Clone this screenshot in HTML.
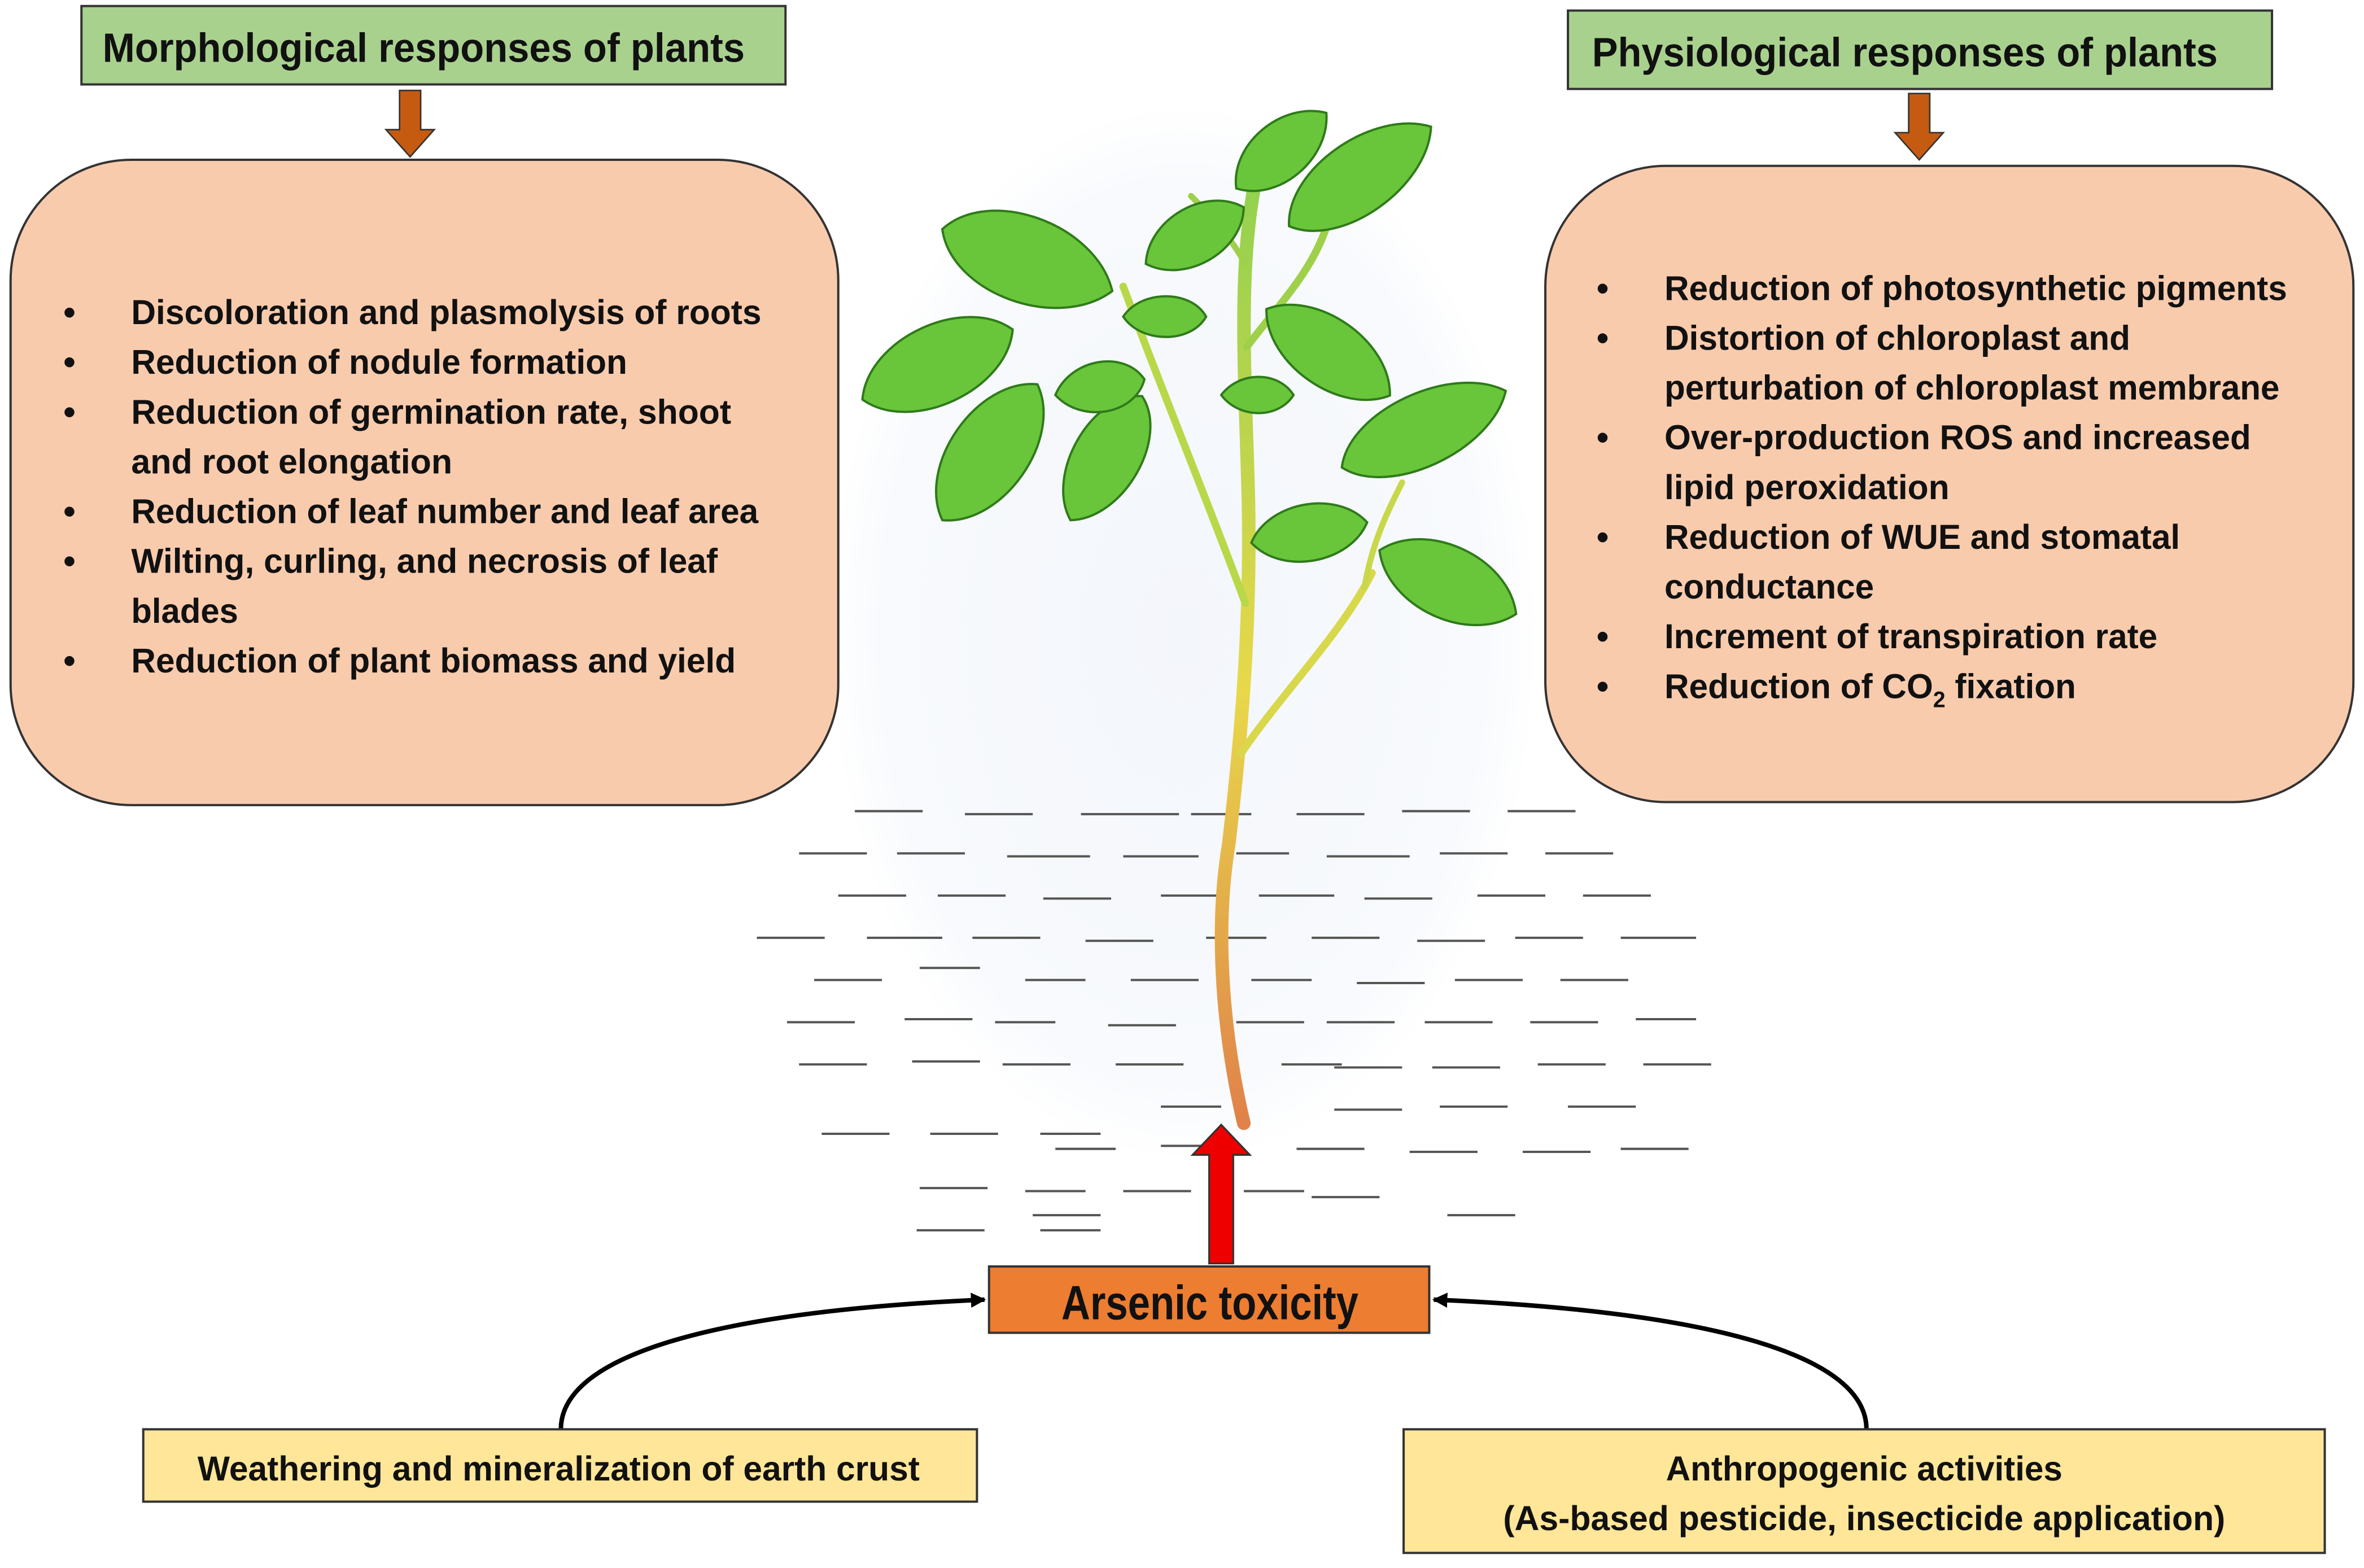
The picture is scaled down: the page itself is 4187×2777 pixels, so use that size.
<!DOCTYPE html>
<html><head><meta charset="utf-8"><style>
html,body{margin:0;padding:0;background:#fff;}
svg{display:block;}
text{font-family:"Liberation Sans",sans-serif;font-weight:bold;fill:#111;}
</style></head><body>
<svg width="4187" height="2777" viewBox="0 0 1568 1040" xmlns="http://www.w3.org/2000/svg">
<defs>
<marker id="ah" markerWidth="10" markerHeight="10" refX="9" refY="5" orient="auto" markerUnits="userSpaceOnUse"><path d="M0,0 L10,5 L0,10 Z" fill="#000"/></marker>
<radialGradient id="glow" cx="0.5" cy="0.5" r="0.5"><stop offset="0" stop-color="#f3f6fb"/><stop offset="0.85" stop-color="#f8fafd"/><stop offset="1" stop-color="#fff"/></radialGradient>
<linearGradient id="stem" x1="0" y1="0" x2="0" y2="1"><stop offset="0" stop-color="#8fd14f"/><stop offset="0.55" stop-color="#e8d84a"/><stop offset="1" stop-color="#e0824a"/></linearGradient>
</defs>
<rect width="1568" height="1040" fill="#fff"/>
<rect x="550" y="70" width="470" height="700" fill="url(#glow)"/>

<rect x="54" y="4" width="467" height="52" fill="#a9d18e" stroke="#333" stroke-width="1.5"/>
<text x="68" y="41" font-size="27" textLength="426" lengthAdjust="spacingAndGlyphs">Morphological responses of plants</text>
<rect x="1040" y="7" width="467" height="52" fill="#a9d18e" stroke="#333" stroke-width="1.5"/>
<text x="1056" y="44" font-size="27" textLength="415" lengthAdjust="spacingAndGlyphs">Physiological responses of plants</text>

<path d="M265,60 h14 v26 h9 l-16,18 l-16,-18 h9 z" fill="#c55a11" stroke="#333" stroke-width="1"/>
<path d="M1266,62 h14 v26 h9 l-16,18 l-16,-18 h9 z" fill="#c55a11" stroke="#333" stroke-width="1"/>

<rect x="7" y="106" width="549" height="428" rx="80" fill="#f8cbad" stroke="#333" stroke-width="1.5"/>
<rect x="1025" y="110" width="536" height="422" rx="80" fill="#f8cbad" stroke="#333" stroke-width="1.5"/>

<g font-size="23">
<text x="42" y="215">•</text><text x="87" y="215" textLength="418" lengthAdjust="spacingAndGlyphs">Discoloration and plasmolysis of roots</text>
<text x="42" y="248">•</text><text x="87" y="248" textLength="329" lengthAdjust="spacingAndGlyphs">Reduction of nodule formation</text>
<text x="42" y="281">•</text><text x="87" y="281" textLength="398" lengthAdjust="spacingAndGlyphs">Reduction of germination rate, shoot</text>
<text x="87" y="314" textLength="213" lengthAdjust="spacingAndGlyphs">and root elongation</text>
<text x="42" y="347">•</text><text x="87" y="347" textLength="416" lengthAdjust="spacingAndGlyphs">Reduction of leaf number and leaf area</text>
<text x="42" y="380">•</text><text x="87" y="380" textLength="389" lengthAdjust="spacingAndGlyphs">Wilting, curling, and necrosis of leaf</text>
<text x="87" y="413" textLength="71" lengthAdjust="spacingAndGlyphs">blades</text>
<text x="42" y="446">•</text><text x="87" y="446" textLength="401" lengthAdjust="spacingAndGlyphs">Reduction of plant biomass and yield</text>

<text x="1059" y="199">•</text><text x="1104" y="199" textLength="413" lengthAdjust="spacingAndGlyphs">Reduction of photosynthetic pigments</text>
<text x="1059" y="232">•</text><text x="1104" y="232" textLength="309" lengthAdjust="spacingAndGlyphs">Distortion of chloroplast and</text>
<text x="1104" y="265" textLength="408" lengthAdjust="spacingAndGlyphs">perturbation of chloroplast membrane</text>
<text x="1059" y="298">•</text><text x="1104" y="298" textLength="389" lengthAdjust="spacingAndGlyphs">Over-production ROS and increased</text>
<text x="1104" y="331" textLength="189" lengthAdjust="spacingAndGlyphs">lipid peroxidation</text>
<text x="1059" y="364">•</text><text x="1104" y="364" textLength="342" lengthAdjust="spacingAndGlyphs">Reduction of WUE and stomatal</text>
<text x="1104" y="397" textLength="139" lengthAdjust="spacingAndGlyphs">conductance</text>
<text x="1059" y="430">•</text><text x="1104" y="430" textLength="327" lengthAdjust="spacingAndGlyphs">Increment of transpiration rate</text>
<text x="1059" y="463">•</text><text x="1104" y="463" textLength="273" lengthAdjust="spacingAndGlyphs">Reduction of CO<tspan font-size="15" dy="6">2</tspan><tspan dy="-6"> fixation</tspan></text>
</g>

<g stroke="#555" stroke-width="3.5">
<path d="M567,538h45 M640,540h45 M717,540h65 M790,540h40 M860,540h45 M930,538h45 M1000,538h45
M530,566h45 M595,566h45 M668,568h55 M745,568h50 M820,566h35 M880,568h55 M955,566h45 M1025,566h45
M556,594h45 M622,594h45 M692,596h45 M770,594h40 M835,594h50 M905,596h45 M980,594h45 M1050,594h45
M502,622h45 M575,622h50 M645,622h45 M720,624h45 M800,622h40 M870,622h45 M940,624h45 M1005,622h45 M1075,622h50
M540,650h45 M610,642h40 M680,650h40 M750,650h45 M830,650h40 M900,652h45 M965,650h45 M1035,650h45
M522,678h45 M600,676h45 M660,678h40 M735,680h45 M820,678h45 M880,678h45 M945,678h45 M1015,678h45 M1085,676h40
M530,706h45 M605,704h45 M665,706h45 M740,706h45 M850,706h40 M885,708h45 M950,708h45 M1020,706h45 M1090,706h45
M770,734h40 M885,736h45 M955,734h45 M1040,734h45
M545,752h45 M617,752h45 M690,752h40 M700,762h40 M770,760h45 M860,762h45 M935,764h45 M1010,764h45 M1075,762h45
M610,788h45 M680,790h40 M745,790h45 M825,790h40 M870,794h45 M960,806h45
M608,816h45 M685,806h45 M690,816h40</path>
</g>

<g stroke="#f2e66a" stroke-width="1.5" fill="none">
<path d="M812,610 C780,620 750,630 720,650 M720,650 C705,660 695,670 690,690 M760,640 C745,660 740,680 735,700 M812,620 C850,615 880,620 915,625 M860,620 C880,640 900,660 915,690 M830,640 C860,650 880,670 890,700 M800,650 C780,670 770,690 760,730 M840,660 C845,680 850,700 845,730 M735,660 L705,665 M880,650 L905,650 M750,680 L725,690 M870,680 L895,700 M700,640 L680,650 M900,630 L915,640"/>
</g>

<g fill="none" stroke-linecap="round">
<path d="M825,745 C812,690 805,620 815,560 C822,500 830,420 828,330 C826,250 820,170 835,110" stroke="url(#stem)" stroke-width="9"/>
<path d="M823,500 C850,460 890,420 910,380" stroke="#d8d84a" stroke-width="5"/>
<path d="M826,400 C800,330 775,270 745,190" stroke="#b8d84a" stroke-width="5"/>
<path d="M827,230 C850,200 870,180 880,150" stroke="#9fd04a" stroke-width="5"/>
<path d="M826,175 C815,155 800,140 790,130" stroke="#9fd04a" stroke-width="4"/>
<path d="M905,390 C910,360 920,340 930,320" stroke="#c8d84a" stroke-width="4"/>
</g>

<g stroke="#2f7a1a" stroke-width="1.5">
<g fill="#69c53a">
<path transform="translate(625,152) rotate(20)" d="M0,0 C20,-38 95,-38 120,0 C95,38 20,38 0,0Z"/>
<path transform="translate(572,265) rotate(-25)" d="M0,0 C20,-35 90,-35 110,0 C90,35 20,35 0,0Z"/>
<path transform="translate(625,345) rotate(-55)" d="M0,0 C20,-35 90,-35 110,0 C90,35 20,35 0,0Z"/>
<path transform="translate(710,345) rotate(-60)" d="M0,0 C18,-30 80,-30 95,0 C80,30 18,30 0,0Z"/>
<path transform="translate(700,262) rotate(-10)" d="M0,0 C14,-22 50,-22 60,0 C50,22 14,22 0,0Z"/>
<path transform="translate(760,175) rotate(-30)" d="M0,0 C16,-25 60,-25 75,0 C60,25 16,25 0,0Z"/>
<path transform="translate(745,210) rotate(0)" d="M0,0 C12,-18 45,-18 55,0 C45,18 12,18 0,0Z"/>
<path transform="translate(820,125) rotate(-40)" d="M0,0 C16,-25 60,-25 78,0 C60,25 16,25 0,0Z"/>
<path transform="translate(855,150) rotate(-35)" d="M0,0 C20,-32 90,-32 115,0 C90,32 20,32 0,0Z"/>
<path transform="translate(840,205) rotate(35)" d="M0,0 C20,-30 80,-30 100,0 C80,30 20,30 0,0Z"/>
<path transform="translate(810,262) rotate(0)" d="M0,0 C12,-16 38,-16 48,0 C38,16 12,16 0,0Z"/>
<path transform="translate(890,310) rotate(-25)" d="M0,0 C20,-32 95,-32 120,0 C95,32 20,32 0,0Z"/>
<path transform="translate(830,360) rotate(-10)" d="M0,0 C16,-25 62,-25 78,0 C62,25 16,25 0,0Z"/>
<path transform="translate(915,365) rotate(25)" d="M0,0 C20,-32 80,-32 100,0 C80,32 20,32 0,0Z"/>
</g>
</g>

<path d="M802,838 v-72 h-11 l19,-20 l19,20 h-11 v72 z" fill="#e00" stroke="#333" stroke-width="1.2"/>

<rect x="656" y="840" width="292" height="44" fill="#ed7d31" stroke="#333" stroke-width="1.5"/>
<text x="704" y="875" font-size="32" textLength="197" lengthAdjust="spacingAndGlyphs">Arsenic toxicity</text>

<path d="M372,948 C372,900 470,870 653,862" fill="none" stroke="#000" stroke-width="3" marker-end="url(#ah)"/>
<path d="M1238,948 C1238,900 1140,870 951,862" fill="none" stroke="#000" stroke-width="3" marker-end="url(#ah)"/>

<rect x="95" y="948" width="553" height="48" fill="#ffe699" stroke="#333" stroke-width="1.5"/>
<text x="131" y="982" font-size="23" textLength="479" lengthAdjust="spacingAndGlyphs">Weathering and mineralization of earth crust</text>
<rect x="931" y="948" width="611" height="82" fill="#ffe699" stroke="#333" stroke-width="1.5"/>
<text x="1105" y="982" font-size="23" textLength="263" lengthAdjust="spacingAndGlyphs">Anthropogenic activities</text>
<text x="997" y="1015" font-size="23" textLength="479" lengthAdjust="spacingAndGlyphs">(As-based pesticide, insecticide application)</text>
</svg>
</body></html>
